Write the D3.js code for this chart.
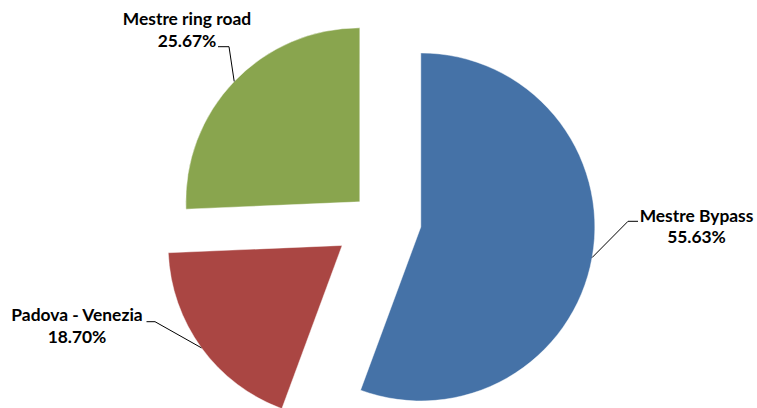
<!DOCTYPE html>
<html>
<head>
<meta charset="utf-8">
<script src="https://cdn.jsdelivr.net/npm/d3@7"></script>
<style>
  html, body { margin: 0; padding: 0; background: #fff; }
  svg { display: block; }
  .lbl { font-family: Lato, "Open Sans", sans-serif; font-weight: 700; font-size: 17.4px; fill: #000; }
</style>
</head>
<body>
<svg id="chart" width="757" height="408"></svg>
<script>
// Share of traffic by route (percent)
const categories = ["Mestre Bypass", "Padova - Venezia", "Mestre ring road"];
const shares = [55.63, 18.70, 25.67];
const shareLabels = ["55.63%", "18.70%", "25.67%"];
// How far each slice is pulled out, as a fraction of the radius
const explode = [0.25, 0.255, 0.145];
const colors = ["#4572A7", "#AA4643", "#89A54E"];

const W = 757, H = 408;
const cx = 378, cy = 219.3, R = 174;

// Label placement: text centre and first baseline, plus leader elbow and end
const labelLayout = [
  { x: 696.5, y: 221.7, elbow: [628, 221.3], end: [638, 221.3] },
  { x: 77,    y: 321,   elbow: [155, 321.7], end: [146.5, 321.7] },
  { x: 187,   y: 25,    elbow: [229, 46.7],  end: [218, 46.7] }
];

const svg = d3.select("#chart");
const g = svg.append("g").attr("transform", `translate(${cx},${cy})`);

const pie = d3.pie().sort(null).value(d => d).startAngle(0).endAngle(2 * Math.PI);
const arcs = pie(shares);
const arc = d3.arc().innerRadius(0).outerRadius(R);

// unit vector pointing toward a clockwise-from-top angle
const dir = a => [Math.sin(a), -Math.cos(a)];

const slices = g.selectAll("g.slice")
  .data(arcs)
  .join("g")
  .attr("class", "slice")
  .attr("transform", (d, i) => {
    const m = (d.startAngle + d.endAngle) / 2;
    const [ux, uy] = dir(m);
    return `translate(${ux * explode[i] * R},${uy * explode[i] * R})`;
  });

slices.append("path")
  .attr("d", arc)
  .attr("fill", (d, i) => colors[i])
  .attr("stroke", "rgba(255,255,255,0.55)")
  .attr("stroke-width", 0.8);

// Leader lines from the middle of each slice's rim to its label
arcs.forEach((d, i) => {
  const m = (d.startAngle + d.endAngle) / 2;
  const [ux, uy] = dir(m);
  const off = explode[i] * R;
  const px = cx + ux * (off + R), py = cy + uy * (off + R);
  const L = labelLayout[i];
  svg.append("polyline")
    .attr("points", [[px, py], L.elbow, L.end].map(p => p.join(",")).join(" "))
    .attr("fill", "none")
    .attr("stroke", "#000")
    .attr("stroke-width", 1);
});

// Two-line labels: category name and share
labelLayout.forEach((L, i) => {
  const t = svg.append("text")
    .attr("class", "lbl")
    .attr("text-anchor", "middle")
    .attr("x", L.x)
    .attr("y", L.y);
  t.append("tspan").attr("x", L.x).text(categories[i]);
  t.append("tspan").attr("x", L.x).attr("dy", 21.5).text(shareLabels[i]);
});
</script>
</body>
</html>
